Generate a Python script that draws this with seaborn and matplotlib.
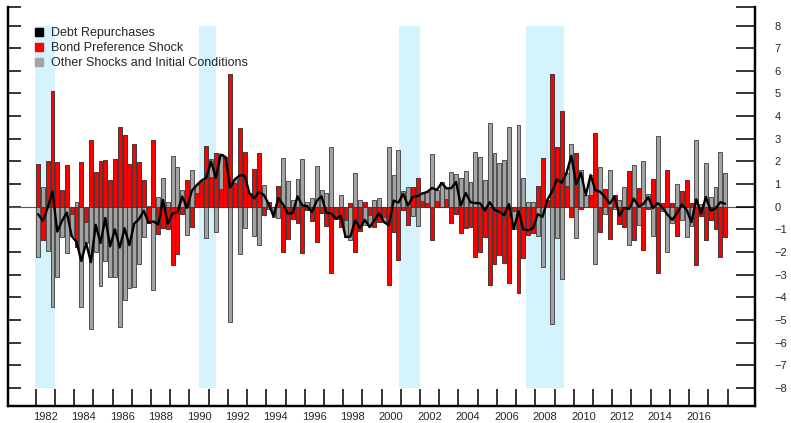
import numpy as np
import pandas as pd
import matplotlib
matplotlib.use("Agg")
import matplotlib.pyplot as plt
from matplotlib.lines import Line2D
import seaborn as sns

# historical decomposition, quarterly 1982Q1 - 2017Q4
start_year = 1982

bond_pref = [
    1.87, -1.49, 2.00, 5.12, 1.96, 0.72, 1.82, -0.30,
    -1.79, 1.97, -0.66, 2.94, 1.53, 2.03, 2.06, 1.16,
    2.09, 3.50, 3.18, 1.88, 2.78, 1.96, 1.19, -0.74,
    2.94, -1.22, -0.96, -1.00, -2.57, -2.10, -0.30, 1.18,
    -0.90, 0.59, 1.10, 2.70, 1.32, 2.35, 0.80, 2.20,
    5.85, 1.03, 3.46, 2.40, 0.59, 1.66, 2.35, -0.37,
    0.22, 0.00, 0.91, -1.99, -1.44, -0.55, -0.74, -2.06,
    -0.15, -0.62, -1.54, -0.26, -0.85, -2.94, -0.56, -0.88,
    -0.60, 0.15, -1.99, -1.07, 0.22, -0.37, -0.90, -0.66,
    -0.44, -3.47, -1.10, -2.35, -0.15, -0.81, 0.85, 1.29,
    0.26, 0.15, -1.47, 0.24, 0.00, 0.32, -0.74, -0.32,
    -1.15, -0.96, -0.88, -2.24, -1.99, -1.35, -3.47, -2.53,
    -2.13, -2.47, -3.38, -0.20, -3.82, -2.28, -1.25, -1.15,
    0.91, 2.16, 0.30, 5.88, 2.62, 4.24, 0.90, -0.47,
    2.35, -0.10, 0.00, 0.50, 3.26, -1.10, 0.79, -1.44,
    0.50, -0.78, -0.90, 1.59, -1.47, 0.81, -1.91, -0.10,
    1.21, -2.94, 0.15, 1.62, 0.15, -1.28, 0.69, 1.18,
    0.15, -2.57, -0.41, -1.47, -0.59, -1.00, -2.21, -1.32,
]

other = [
    -2.20, 0.87, -1.94, -4.41, -3.09, -1.35, -2.06, -1.00,
    0.22, -4.44, -0.94, -5.41, -2.00, -3.50, -2.40, -3.10,
    -3.10, -5.30, -4.10, -3.60, -3.55, -2.54, -1.35, 0.05,
    -3.68, 0.41, 1.28, 0.22, 2.26, 1.76, 0.76, -1.25,
    1.62, 0.36, 0.05, -1.40, 0.77, -1.10, 1.51, 0.00,
    -5.07, 0.20, -2.09, -0.96, 0.00, -1.29, -1.69, 0.94,
    -0.10, -0.45, -0.51, 2.16, 1.13, 0.29, 1.21, 2.10,
    0.22, 0.37, 1.81, 0.74, 0.59, 2.65, 0.00, 0.51,
    -0.75, -1.47, 1.47, 0.29, -0.80, -0.50, 0.30, 0.37,
    -0.25, 2.65, 1.40, 2.50, 0.71, 0.85, -0.41, -0.85,
    0.33, 0.50, 2.31, 0.50, 1.10, 0.49, 1.54, 1.43,
    1.25, 1.59, 1.10, 2.40, 2.18, 1.18, 3.68, 2.35,
    1.91, 2.06, 3.50, -0.80, 3.63, 1.25, 0.22, 0.22,
    -1.28, -2.65, 0.00, -5.19, -1.40, -3.18, 0.60, 2.75,
    -1.37, 1.62, 0.51, 0.90, -2.53, 1.76, -0.34, 1.62,
    -0.10, 0.30, 0.85, -1.69, 1.82, -0.80, 2.01, 0.54,
    -1.29, 3.12, -0.20, -1.99, -0.74, 1.00, -0.59, -1.32,
    -0.85, 2.94, 0.10, 1.91, 0.41, 0.88, 2.43, 1.47,
]

total = [
    -0.33, -0.62, -0.05, 0.68, -1.10, -0.62, -0.26, -1.30,
    -1.55, -2.40, -1.60, -2.45, -0.80, -1.60, -0.50, -1.75,
    -1.00, -1.80, -0.95, -1.70, -0.75, -0.55, -0.18, -0.70,
    -0.65, -0.78, 0.30, -0.75, -0.30, -0.25, 0.45, -0.05,
    0.70, 0.95, 1.15, 1.28, 2.00, 1.28, 2.30, 2.20,
    0.85, 1.22, 1.38, 1.38, 0.59, 0.37, 0.66, 0.52,
    0.12, -0.42, 0.38, 0.10, -0.30, -0.28, 0.46, 0.05,
    0.03, -0.24, 0.26, 0.46, -0.27, -0.29, -0.53, -0.40,
    -1.34, -1.32, -0.60, -0.95, -0.58, -0.90, -0.60, -0.29,
    -0.68, -0.82, 0.27, 0.18, 0.57, 0.05, 0.44, 0.47,
    0.59, 0.65, 0.83, 0.74, 1.05, 0.81, 0.82, 1.09,
    0.05, 0.61, 0.20, 0.16, 0.15, -0.16, 0.20, -0.14,
    -0.22, -0.38, 0.12, -0.98, -0.20, -1.00, -1.04, -0.95,
    -0.33, -0.45, 0.30, 0.68, 1.20, 1.06, 1.50, 2.25,
    1.00, 1.50, 0.51, 1.40, 0.73, 0.66, 0.42, 0.14,
    0.45, -0.40, -0.05, -0.10, 0.36, 0.01, 0.12, 0.42,
    -0.06, 0.16, -0.05, -0.35, -0.58, -0.28, 0.10, -0.14,
    -0.68, 0.33, -0.30, 0.43, -0.17, -0.08, 0.20, 0.13,
]

recessions = [(1981.96, 1983.0), (1990.5, 1991.37), (2000.92, 2002.0), (2007.5, 2009.5)]
year_ticks = list(range(1982, 2019))
year_labels = list(range(1982, 2017, 2))
y_ticks = list(range(-8, 9))

legend_labels = ["Debt Repurchases", "Bond Preference Shock",
                 "Other Shocks and Initial Conditions"]

RED = "#FF0000"
GRAY = "#A3A3A3"
EDGE = "#3C3C3C"
BAND = "#D4F3FC"
ylo, yhi = -8.8, 8.82

sns.set_style("white")
plt.rcParams["font.family"] = ["Liberation Sans", "DejaVu Sans"]

n = len(total)
df = pd.DataFrame({
    "x": start_year + (np.arange(n) + 0.5) / 4,
    "red": bond_pref,
    "gray": other,
    "total": total,
})
# stacked: red next to zero, gray stacked beyond it
df["red_pos"] = df["red"].clip(lower=0)
df["red_neg"] = df["red"].clip(upper=0)
df["cum_pos"] = df["red_pos"] + df["gray"].clip(lower=0)
df["cum_neg"] = df["red_neg"] + df["gray"].clip(upper=0)

fig = plt.figure(figsize=(7.91, 4.23), dpi=100)
ax = fig.add_axes([0.0101, 0.0402, 0.9444, 0.9433])

for a, b in recessions:
    ax.fill_between([a, b], -8, 8, color=BAND, lw=0, zorder=0)
ax.axhline(0, color="#555555", lw=0.8, zorder=1)

bar_kw = dict(native_scale=True, width=0.82, saturation=1, errorbar=None,
              edgecolor=EDGE, linewidth=0.6, ax=ax, zorder=2)
sns.barplot(data=df, x="x", y="cum_pos", color=GRAY, **bar_kw)
sns.barplot(data=df, x="x", y="cum_neg", color=GRAY, **bar_kw)
sns.barplot(data=df, x="x", y="red_pos", color=RED, **bar_kw)
sns.barplot(data=df, x="x", y="red_neg", color=RED, **bar_kw)
sns.lineplot(data=df, x="x", y="total", color="black", lw=1.7, ax=ax, zorder=4)

ax.set_xlim(1980.56, 2019.43)
ax.set_ylim(ylo, yhi)
ax.set_xlabel("")
ax.set_ylabel("")

# x axis: yearly ticks inside, labels centred in every second year
ax.set_xticks(year_ticks)
ax.set_xticklabels([])
ax.set_xticks([y + 0.5 for y in year_labels], minor=True)
ax.set_xticklabels([str(y) for y in year_labels], minor=True, fontsize=8)
ax.tick_params(axis="x", which="major", direction="in", length=12, width=1.1,
               color="black", bottom=True, top=False)
ax.tick_params(axis="x", which="minor", length=0, pad=4, bottom=True)

# left ticks (no labels)
ax.set_yticks(y_ticks + [yhi])
ax.set_yticklabels([])
ax.tick_params(axis="y", direction="in", length=9.5, width=1.1, color="black",
               left=True, right=False)

# right ticks with labels
ax2 = ax.twinx()
ax2.set_ylim(ylo, yhi)
ax2.set_yticks(y_ticks + [yhi])
ax2.set_yticklabels([str(v).replace("-", "\u2212") for v in y_ticks] + [""],
                    fontsize=8, ha="left")
ax2.tick_params(axis="y", direction="in", length=13.5, width=1.1, color="black",
                pad=14, left=False, right=True)

for a in (ax, ax2):
    a.spines["top"].set_visible(False)
    for s in ("left", "right", "bottom"):
        a.spines[s].set_linewidth(1.6)
        a.spines[s].set_color("black")
    a.grid(False)

handles = [
    Line2D([], [], marker="s", ls="none", markersize=5.5, color="black"),
    Line2D([], [], marker="s", ls="none", markersize=5.5, color=RED),
    Line2D([], [], marker="s", ls="none", markersize=5.5, color=GRAY),
]
ax2.legend(handles, legend_labels, loc="upper left", bbox_to_anchor=(0.0295, 0.962),
           frameon=False, fontsize=9, handlelength=0.7, handletextpad=0.55,
           labelspacing=0.25, borderaxespad=0, borderpad=0.4)

fig.savefig("out.png", dpi=100)
